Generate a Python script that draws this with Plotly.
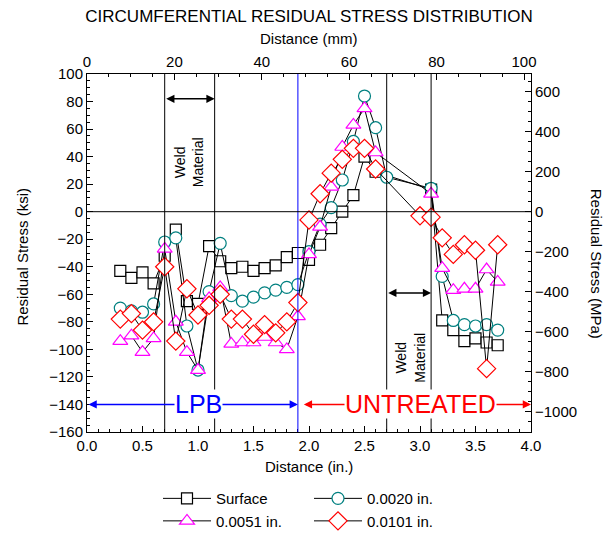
import plotly.graph_objects as go

# ---------------- data ----------------
x_surface = [0.3, 0.4, 0.5, 0.6, 0.7, 0.8, 0.9, 1.0, 1.1, 1.2, 1.3, 1.4, 1.5, 1.6, 1.7, 1.8,
             1.9, 2.0, 2.1, 2.2, 2.3, 2.4, 2.5, 2.6, 3.1, 3.2, 3.3, 3.4, 3.5, 3.6, 3.7]
y_surface = [-43, -48, -44, -52, -32, -13, -65, -67, -25, -36, -41, -40, -43, -41, -39, -33,
             -30, -35, -24, -12, 0, 12, 40, 29, 16, -79, -86, -94, -92, -95, -97]

x_d0020 = [0.3, 0.4, 0.5, 0.6, 0.7, 0.8, 0.9, 1.0, 1.1, 1.2, 1.3, 1.4, 1.5, 1.6, 1.7, 1.8,
           1.9, 2.0, 2.1, 2.2, 2.3, 2.4, 2.5, 2.6, 2.7, 3.1, 3.2, 3.3, 3.4, 3.5, 3.6, 3.7]
y_d0020 = [-70, -72, -73, -67, -22, -19, -83, -115, -58, -23, -61, -65, -62, -59, -57, -55,
           -53, -29, -9, 3, 23, 51, 84, 61, 25, 17, -47, -79, -82, -83, -82, -86]

x_d0051 = [0.3, 0.4, 0.5, 0.6, 0.7, 0.8, 0.9, 1.0, 1.1, 1.2, 1.3, 1.4, 1.5, 1.6, 1.7, 1.8,
           1.9, 2.0, 2.1, 2.2, 2.3, 2.4, 2.5, 2.6, 3.1, 3.2, 3.3, 3.4, 3.5, 3.6, 3.7]
y_d0051 = [-94, -90, -102, -92, -27, -80, -102, -115, -63, -55, -96, -95, -95, -91, -95, -100,
           -76, -31, -11, 18, 47, 63, 75, 43, 13, -41, -57, -56, -56, -42, -51]

x_d0101 = [0.3, 0.4, 0.5, 0.6, 0.7, 0.8, 0.9, 1.0, 1.1, 1.2, 1.3, 1.4, 1.5, 1.6, 1.7, 1.8,
           1.9, 2.0, 2.1, 2.2, 2.3, 2.4, 2.5, 2.6, 3.0, 3.1, 3.2, 3.3, 3.4, 3.5, 3.6, 3.7]
y_d0101 = [-78, -74, -86, -80, -40, -94, -56, -75, -68, -60, -78, -78, -89, -82, -88, -80,
           -66, -6, 13, 28, 38, 46, 46, 31, -3, -4, -19, -31, -24, -28, -114, -24]

series_names = ["Surface", "0.0020 in.", "0.0051 in.", "0.0101 in."]

weld_lines = [0.7, 1.15, 2.7, 3.1]      # weld material boundaries (in.)
lpb_boundary = 1.9                       # LPB / untreated boundary (in.)
x_range = [0, 4]
ksi_range = [-160, 100]
KSI_TO_MPA = 6.894757
IN_TO_MM = 25.4

# ---------------- figure ----------------
FONT = "Liberation Sans, Arial, sans-serif"
fig = go.Figure()

styles = [
    dict(symbol="square", size=11, color="black"),
    dict(symbol="circle", size=12, color="#008080"),
    dict(symbol="triangle-up", size=13, color="#FF00FF"),
    dict(symbol="diamond", size=14, color="#FF0000"),
]
for name, xs, ys, st in zip(series_names,
                            [x_surface, x_d0020, x_d0051, x_d0101],
                            [y_surface, y_d0020, y_d0051, y_d0101],
                            styles):
    fig.add_trace(go.Scatter(
        x=xs, y=ys, name=name, mode="lines+markers",
        line=dict(color="black", width=1),
        marker=dict(symbol=st["symbol"], size=st["size"], color="white",
                    line=dict(color=st["color"], width=1.2)),
    ))

# helper (invisible) traces so the secondary axes are drawn
fig.add_trace(go.Scatter(x=[v * IN_TO_MM for v in x_surface], y=y_surface,
                         xaxis="x2", yaxis="y", mode="markers",
                         marker=dict(opacity=0), showlegend=False, hoverinfo="skip"))
fig.add_trace(go.Scatter(x=x_surface, y=[v * KSI_TO_MPA for v in y_surface],
                         xaxis="x", yaxis="y2", mode="markers",
                         marker=dict(opacity=0), showlegend=False, hoverinfo="skip"))

axis_common = dict(showline=True, linecolor="black", linewidth=1, ticks="inside",
                   ticklen=6, tickwidth=1, tickcolor="black", showgrid=False,
                   zeroline=False, tickfont=dict(size=15, family=FONT, color="black"))

# the page body adds ~8 px offset; margins compensate
M_L, M_T = 79, 66
PLOT_W, PLOT_H = 444, 358
M_R = 616 - M_L - PLOT_W
M_B = 535 - M_T - PLOT_H

fig.update_layout(
    width=616, height=535,
    margin=dict(l=M_L, r=M_R, t=M_T, b=M_B, autoexpand=False),
    paper_bgcolor="white", plot_bgcolor="white",
    font=dict(family=FONT, size=15, color="black"),
    title=dict(text="CIRCUMFERENTIAL RESIDUAL STRESS DISTRIBUTION", x=(PLOT_W / 2 + M_L) / 616,
               xanchor="center", y=1 - 8 / 535, yanchor="middle", yref="container",
               font=dict(size=17, family=FONT, color="black")),
    xaxis=dict(range=x_range, dtick=0.5, tickformat=".1f",
               minor=dict(dtick=0.1, ticks="inside", ticklen=3, tickcolor="black"),
               **axis_common),
    xaxis2=dict(range=[x_range[0] * IN_TO_MM, x_range[1] * IN_TO_MM], overlaying="x",
                side="top", anchor="y", dtick=20,
                minor=dict(dtick=5, ticks="inside", ticklen=3, tickcolor="black"),
                **axis_common),
    yaxis=dict(range=ksi_range, dtick=20,
               minor=dict(dtick=5, ticks="inside", ticklen=3, tickcolor="black"),
               **axis_common),
    yaxis2=dict(range=[ksi_range[0] * KSI_TO_MPA, ksi_range[1] * KSI_TO_MPA],
                overlaying="y", side="right", anchor="x", dtick=200,
                minor=dict(dtick=50, ticks="inside", ticklen=3, tickcolor="black"),
                **axis_common),
    showlegend=True,
    legend=dict(orientation="h", x=0.5, xanchor="center", y=-0.14, yanchor="top",
                entrywidth=88, itemwidth=48, font=dict(size=15, family=FONT, color="black"),
                bgcolor="rgba(0,0,0,0)", traceorder="normal"),
)

# reference lines
shapes = []
for xv in weld_lines:
    shapes.append(dict(type="line", xref="x", yref="paper", x0=xv, x1=xv, y0=0, y1=1,
                       line=dict(color="black", width=1)))
shapes.append(dict(type="line", xref="x", yref="paper", x0=lpb_boundary, x1=lpb_boundary,
                   y0=0, y1=1, line=dict(color="blue", width=1)))
shapes.append(dict(type="line", xref="paper", yref="y", x0=0, x1=1, y0=0, y1=0,
                   line=dict(color="black", width=1)))
fig.update_layout(shapes=shapes)

ann = []
def darrow(x0, x1, y, color, width=1.5):
    return dict(x=x1, y=y, ax=x0, ay=y, xref="x", yref="y", axref="x", ayref="y",
                text="", showarrow=True, arrowside="end+start", arrowhead=2,
                startarrowhead=2, arrowsize=1.1, startarrowsize=1.1,
                arrowwidth=width, arrowcolor=color)

ann.append(darrow(weld_lines[0], weld_lines[1], 82, "black"))
ann.append(darrow(weld_lines[2], weld_lines[3], -59, "black"))
ann.append(darrow(x_range[0], lpb_boundary, -140, "blue"))
ann.append(darrow(lpb_boundary + 0.04, x_range[1], -140, "red"))

ann.append(dict(x=1.0, y=-140, xref="x", yref="y", text="LPB", showarrow=False,
                font=dict(size=25, color="blue", family=FONT), bgcolor="white", borderpad=0))
ann.append(dict(x=3.0, y=-140, xref="x", yref="y", text="UNTREATED", showarrow=False,
                font=dict(size=25, color="red", family=FONT), bgcolor="white", borderpad=0))

for xv, yv in [(0.92, 36), (2.91, -106)]:
    ann.append(dict(x=xv, y=yv, xref="x", yref="y", text="Weld<br>Material",
                    textangle=-90, showarrow=False, align="center",
                    xanchor="center", yanchor="middle",
                    font=dict(size=14, family=FONT, color="black")))

# axis titles
ann.append(dict(x=-64 / PLOT_W, y=0.49, xref="paper", yref="paper", text="Residual Stress (ksi)",
                textangle=-90, showarrow=False, xanchor="center", yanchor="middle",
                font=dict(size=15, family=FONT)))
ann.append(dict(x=1 + 65 / PLOT_W, y=0.47, xref="paper", yref="paper", text="Residual Stress (MPa)",
                textangle=90, showarrow=False, xanchor="center", yanchor="middle",
                font=dict(size=15, family=FONT)))
ann.append(dict(x=0.5, y=1 + 36 / PLOT_H, xref="paper", yref="paper", text="Distance (mm)",
                showarrow=False, xanchor="center", yanchor="middle",
                font=dict(size=15, family=FONT)))
ann.append(dict(x=0.5, y=-34 / PLOT_H, xref="paper", yref="paper", text="Distance (in.)",
                showarrow=False, xanchor="center", yanchor="middle",
                font=dict(size=15, family=FONT)))
fig.update_layout(annotations=ann)

fig.write_html("out.html")
